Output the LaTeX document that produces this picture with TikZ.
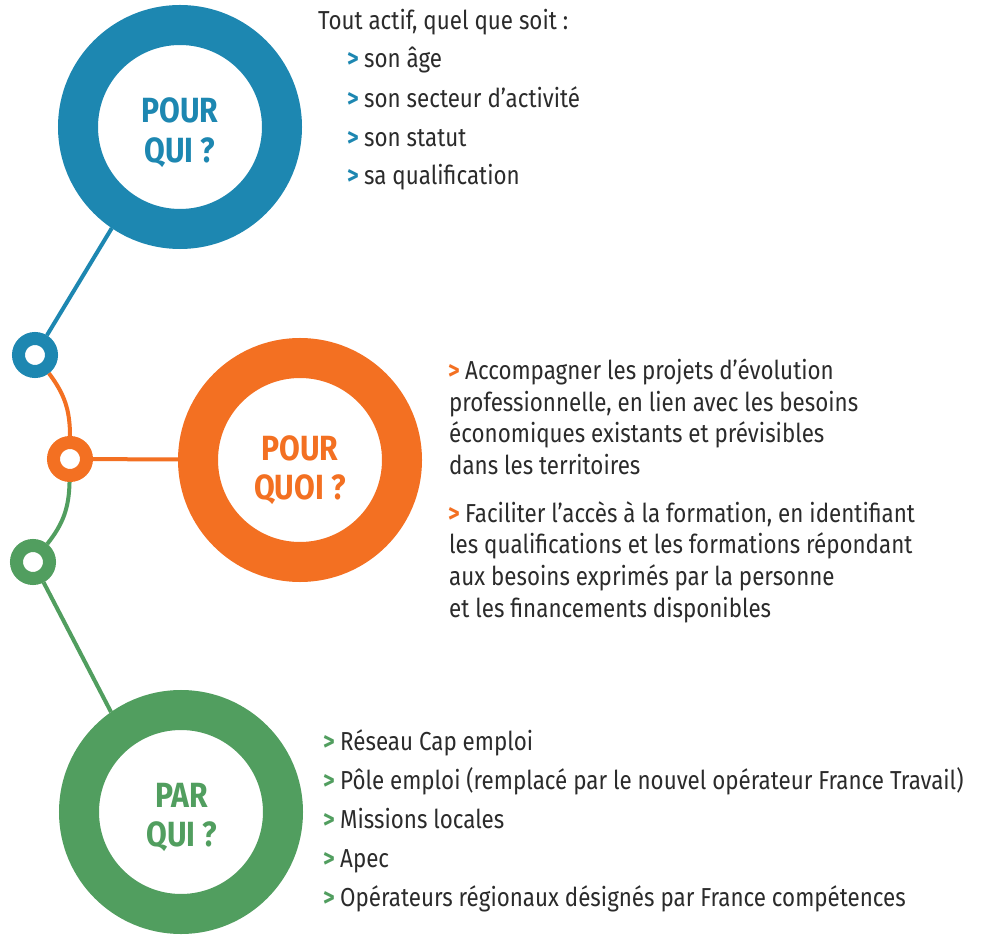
\documentclass[tikz,border=0pt]{standalone}
\usepackage{fontspec}
\setmainfont{Fira Sans}[FakeStretch=0.86]
\definecolor{cblue}{HTML}{1D87B1}
\definecolor{corange}{HTML}{F37022}
\definecolor{cgreen}{HTML}{519E5F}
\definecolor{ctext}{HTML}{2B2B2B}
\tikzset{
  bigring/.style={circle, draw=#1, line width=40pt, minimum size=204pt, inner sep=0pt},
  smallring/.style={circle, draw=#1, fill=white, line width=13pt, minimum size=33pt, inner sep=0pt},
  conn/.style={draw=#1, line width=4pt},
  head/.style={anchor=base, inner sep=0pt, text=#1, font=\fontsize{35}{40}\selectfont\bfseries},
  body/.style={anchor=base west, inner sep=0pt, text=ctext, font=\fontsize{26}{32}\selectfont},
  bul/.style={anchor=base west, inner sep=0pt, text=#1, font=\fontsize{26}{32}\selectfont\bfseries},
}
\begin{document}
\begin{tikzpicture}[x=1pt,y=1pt]
\useasboundingbox[fill=white] (0,0) rectangle (984,935);
% big rings
\node[bigring=cblue] (bb) at (180,808) {};
\node[bigring=corange] (ob) at (300,475) {};
\node[bigring=cgreen] (gb) at (181,123) {};
% small rings
\node[smallring=cblue] (bs) at (35,580) {};
\node[smallring=corange] (os) at (70,476) {};
\node[smallring=cgreen] (gs) at (33,373) {};
% connectors
\draw[conn=cblue] (bs) -- (bb.236);
\draw[conn=corange] (bs) to[bend left=18.6] (os);
\draw[conn=corange] (os) -- (ob);
\draw[conn=cgreen] (os) to[bend left=18.6] (gs);
\draw[conn=cgreen] (gs) -- (gb.125);
% headings
\node[head=cblue] (h1a) at (180,812) {POUR};
\node[head=cblue] (h1b) at (180,772) {QUI ?};
\node[head=corange] (h2a) at (300,474) {POUR};
\node[head=corange] (h2b) at (300,435) {QUOI ?};
\node[head=cgreen] (h3a) at (182,128) {PAR};
\node[head=cgreen] (h3b) at (182,89) {QUI ?};
% blue text
\node[body] (t0) at (318,905) {Tout actif, quel que soit :};
\node[bul=cblue] (b1) at (347,867) {>};
\node[body] (t1) at (364,867) {son âge};
\node[bul=cblue] (b2) at (347,827) {>};
\node[body] (t2) at (364,827) {son secteur d’activité};
\node[bul=cblue] (b3) at (347,788) {>};
\node[body] (t3) at (364,788) {son statut};
\node[bul=cblue] (b4) at (347,750) {>};
\node[body] (t4) at (364,750) {sa qualification};
% orange text
\node[bul=corange] (o0) at (448,555) {>};
\node[body] (o1) at (465,555) {Accompagner les projets d’évolution};
\node[body] (o2) at (449,523) {professionnelle, en lien avec les besoins};
\node[body] (o3) at (449,492) {économiques existants et prévisibles};
\node[body] (o4) at (449,460) {dans les territoires};
\node[bul=corange] (o5) at (448,413) {>};
\node[body] (o6) at (465,413) {Faciliter l’accès à la formation, en identifiant};
\node[body] (o7) at (449,382) {les qualifications et les formations répondant};
\node[body] (o8) at (449,350) {aux besoins exprimés par la personne};
\node[body] (o9) at (449,318) {et les financements disponibles};
% green text
\node[bul=cgreen] (g1) at (323,185) {>};
\node[body] (g1t) at (340,185) {Réseau Cap emploi};
\node[bul=cgreen] (g2) at (323,146) {>};
\node[body] (g2t) at (340,146) {Pôle emploi (remplacé par le nouvel opérateur France Travail)};
\node[bul=cgreen] (g3) at (323,107) {>};
\node[body] (g3t) at (340,107) {Missions locales};
\node[bul=cgreen] (g4) at (323,68) {>};
\node[body] (g4t) at (340,68) {Apec};
\node[bul=cgreen] (g5) at (323,29) {>};
\node[body] (g5t) at (340,29) {Opérateurs régionaux désignés par France compétences};
\end{tikzpicture}
\end{document}
